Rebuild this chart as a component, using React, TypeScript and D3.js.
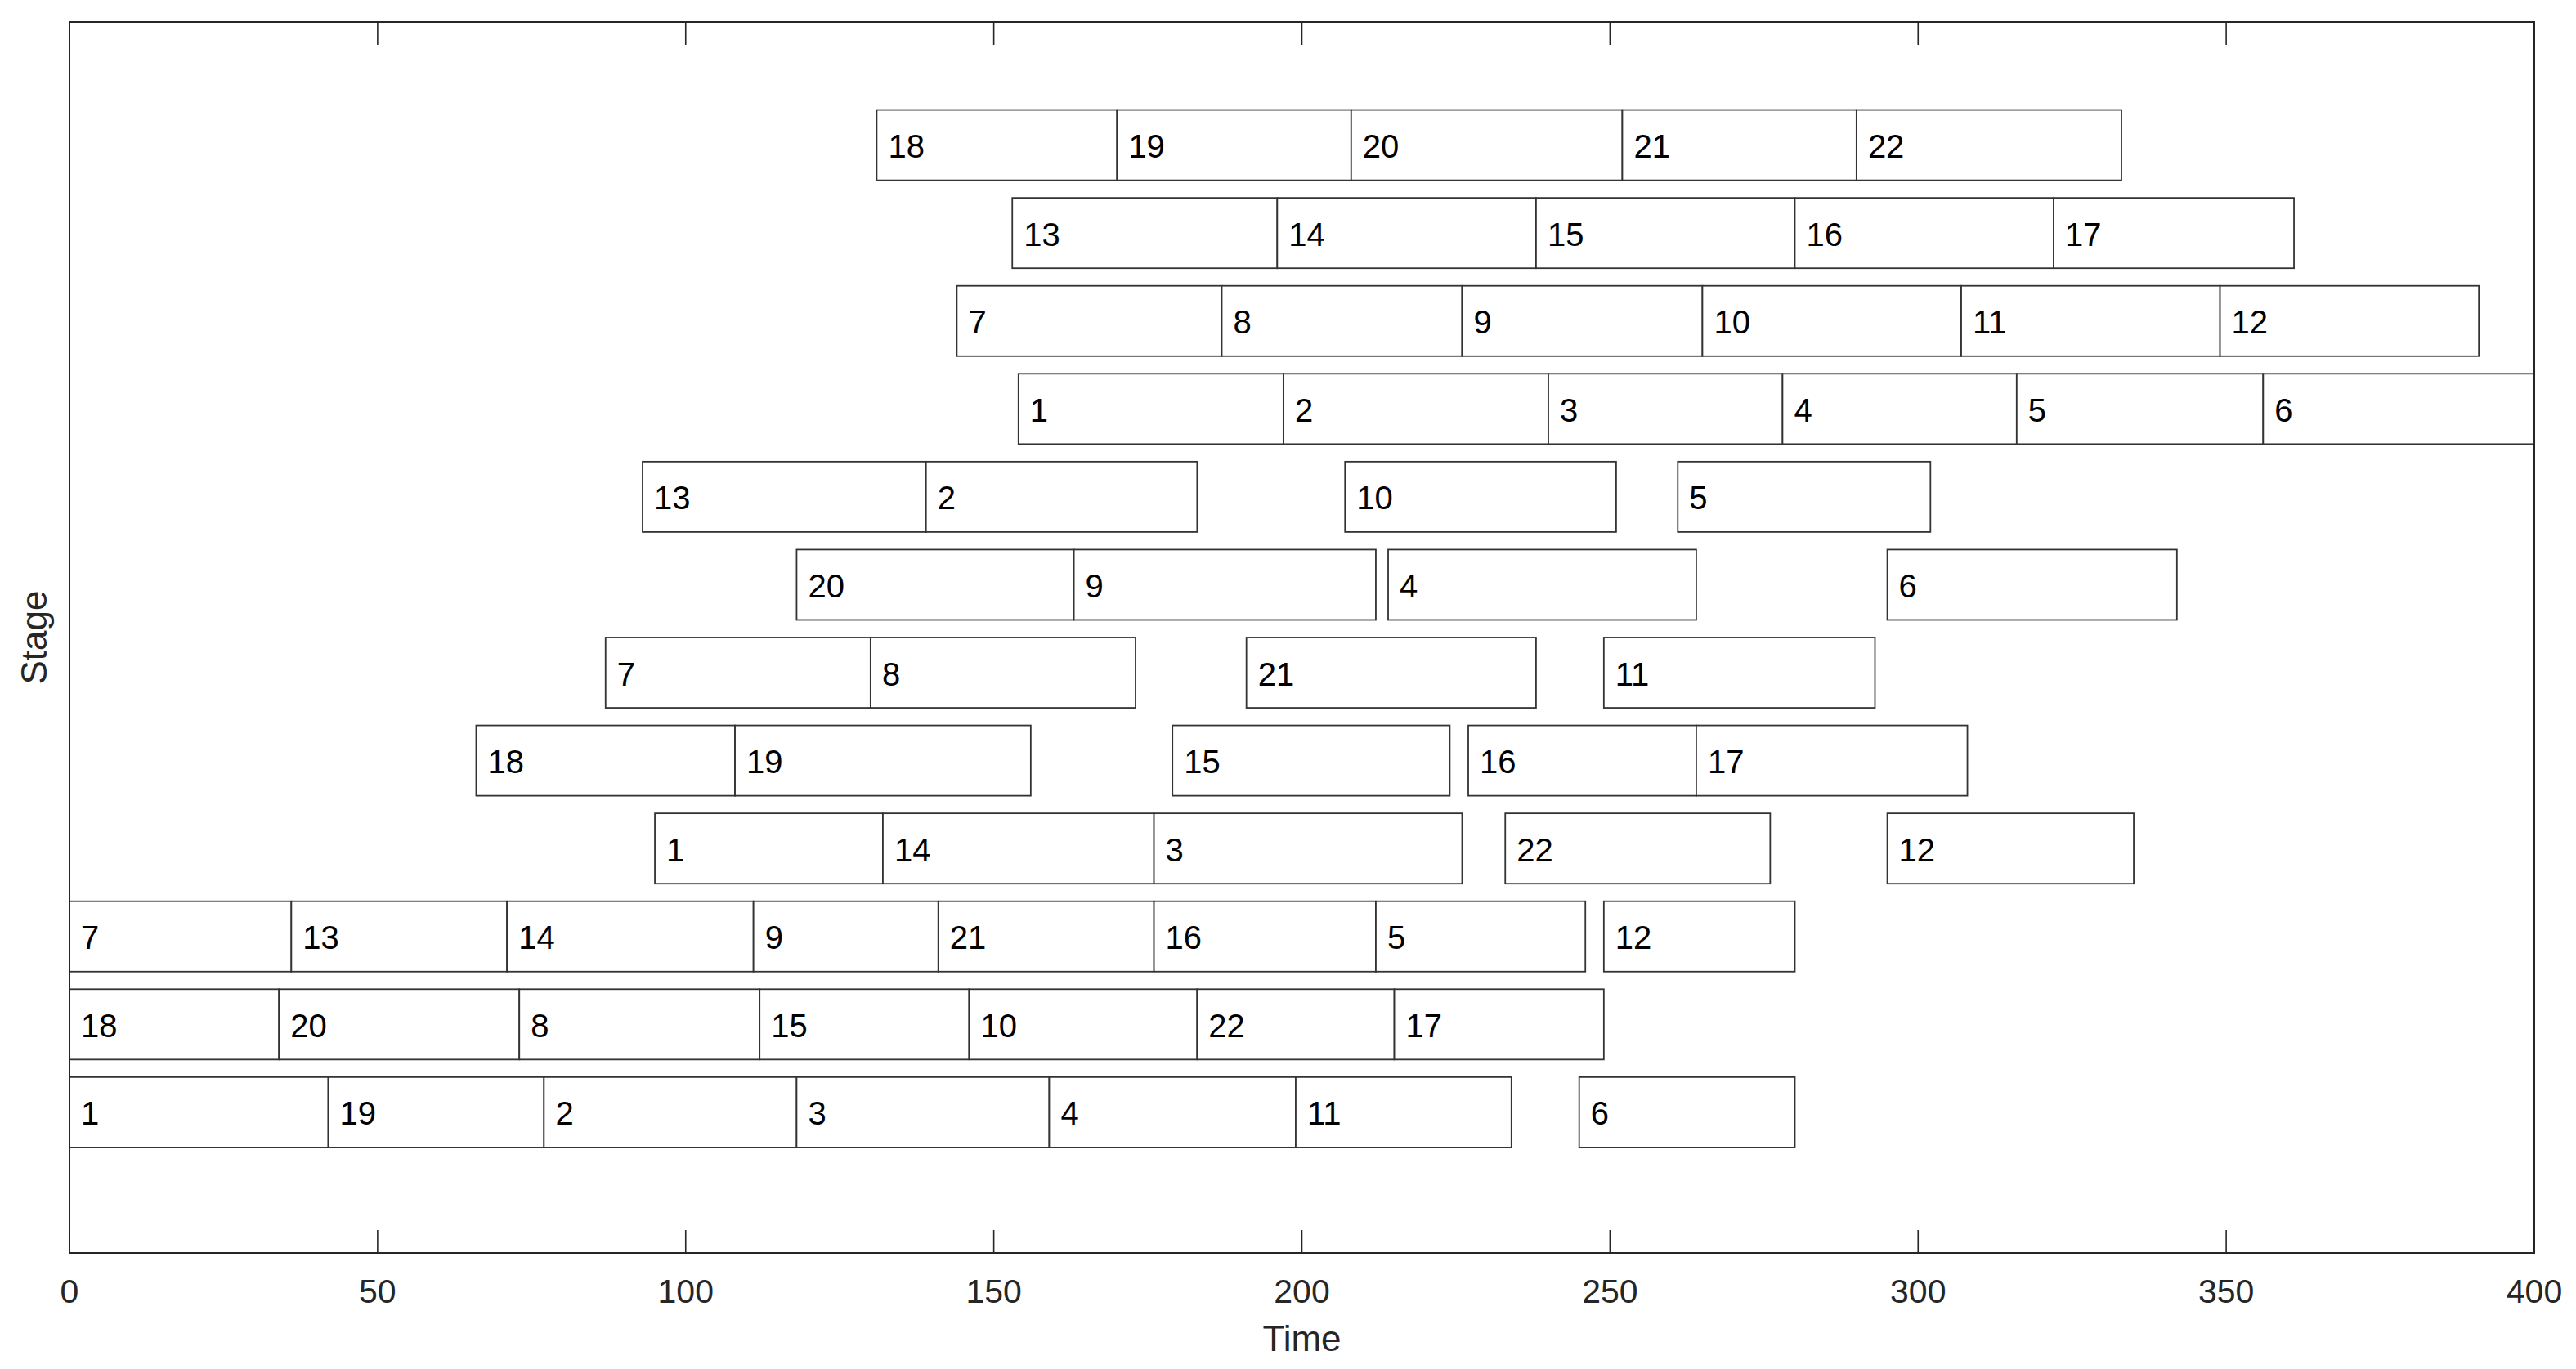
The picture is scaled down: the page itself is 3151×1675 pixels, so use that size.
import React from "react";
import * as d3 from "d3";

// Stage numbers (bottom to top)
const stages = [1, 2, 3, 4, 5, 6, 7, 8, 9, 10, 11, 12];

// Job labels per stage
const stageJobs: number[][] = [
  [1, 19, 2, 3, 4, 11, 6],
  [18, 20, 8, 15, 10, 22, 17],
  [7, 13, 14, 9, 21, 16, 5, 12],
  [1, 14, 3, 22, 12],
  [18, 19, 15, 16, 17],
  [7, 8, 21, 11],
  [20, 9, 4, 6],
  [13, 2, 10, 5],
  [1, 2, 3, 4, 5, 6],
  [7, 8, 9, 10, 11, 12],
  [13, 14, 15, 16, 17],
  [18, 19, 20, 21, 22],
];

// Start times per stage
const stageStarts: number[][] = [
  [0, 42, 77, 118, 159, 199, 245],
  [0, 34, 73, 112, 146, 183, 215],
  [0, 36, 71, 111, 141, 176, 212, 249],
  [95, 132, 176, 233, 295],
  [66, 108, 179, 227, 264],
  [87, 130, 191, 249],
  [118, 163, 214, 295],
  [93, 139, 207, 261],
  [154, 197, 240, 278, 316, 356],
  [144, 187, 226, 265, 307, 349],
  [153, 196, 238, 280, 322],
  [131, 170, 208, 252, 290],
];

// End times per stage
const stageEnds: number[][] = [
  [42, 77, 118, 159, 199, 234, 280],
  [34, 73, 112, 146, 183, 215, 249],
  [36, 71, 111, 141, 176, 212, 246, 280],
  [132, 176, 226, 276, 335],
  [108, 156, 224, 264, 308],
  [130, 173, 238, 293],
  [163, 212, 264, 342],
  [139, 183, 251, 302],
  [197, 240, 278, 316, 356, 400],
  [187, 226, 265, 307, 349, 391],
  [196, 238, 280, 322, 361],
  [170, 208, 252, 290, 333],
];

const xTicks = [0, 50, 100, 150, 200, 250, 300, 350, 400];

const W = 3151;
const H = 1675;
const FONT = "'Liberation Sans', Arial, Helvetica, sans-serif";
const AX = "#262626";

export default function App() {
  const x = d3.scaleLinear().domain([0, 400]).range([85, 3100]);
  const y = d3.scaleLinear().domain([0, 14]).range([1533, 27]);
  const [x0, x1] = x.range();
  const [yb, yt] = y.range();
  const tickLen = 28;

  const bars: { key: string; x: number; y: number; w: number; h: number; label: number; cy: number }[] = [];
  stages.forEach((s, i) => {
    stageJobs[i].forEach((job, j) => {
      const st = stageStarts[i][j];
      const en = stageEnds[i][j];
      const top = y(s + 1.0);
      const bot = y(s + 0.2);
      bars.push({
        key: `${s}-${j}`,
        x: x(st),
        y: top,
        w: x(en) - x(st),
        h: bot - top,
        label: job,
        cy: (top + bot) / 2,
      });
    });
  });

  return (
    <svg
      width={W}
      height={H}
      style={{ position: "absolute", left: 0, top: 0, background: "#fff", display: "block" }}
      fontFamily={FONT}
    >
      <rect x={0} y={0} width={W} height={H} fill="#fff" />
      {/* bars */}
      {bars.map((b) => (
        <g key={b.key}>
          <rect x={b.x} y={b.y} width={b.w} height={b.h} fill="#fff" stroke="#333" strokeWidth={1.8} />
          <text x={b.x + 14} y={b.cy + 15.5} fontSize={40} fill="#000">
            {b.label}
          </text>
        </g>
      ))}
      {/* box */}
      <rect x={x0} y={yt} width={x1 - x0} height={yb - yt} fill="none" stroke={AX} strokeWidth={2} />
      {/* ticks */}
      {xTicks.map((t) => (
        <g key={t}>
          <line x1={x(t)} x2={x(t)} y1={yb} y2={yb - tickLen} stroke={AX} strokeWidth={1.6} />
          <line x1={x(t)} x2={x(t)} y1={yt} y2={yt + tickLen} stroke={AX} strokeWidth={1.6} />
          <text x={x(t)} y={1594} fontSize={41} fill={AX} textAnchor="middle">
            {t}
          </text>
        </g>
      ))}
      {/* axis labels */}
      <text x={(x0 + x1) / 2} y={1653} fontSize={44} fill={AX} textAnchor="middle">
        Time
      </text>
      <text
        transform={`translate(57, ${(yb + yt) / 2}) rotate(-90)`}
        fontSize={44}
        fill={AX}
        textAnchor="middle"
      >
        Stage
      </text>
    </svg>
  );
}
